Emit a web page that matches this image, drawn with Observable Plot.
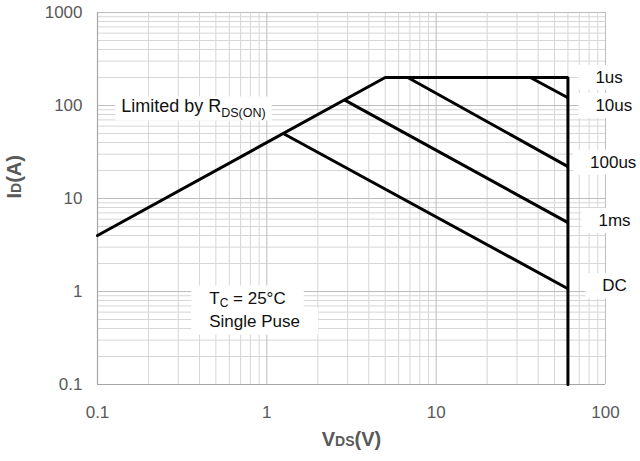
<!DOCTYPE html>
<html>
<head>
<meta charset="utf-8">
<script src="https://cdn.jsdelivr.net/npm/d3@7"></script>
<script src="https://cdn.jsdelivr.net/npm/@observablehq/plot@0.6"></script>
<style>
  body { margin: 0; background: #fff; }
</style>
</head>
<body>
<div id="chart"></div>
<script>
// Safe operating area, Tc = 25°C, single pulse (log–log)

// Outer boundary: RDS(on) limit -> current limit -> voltage limit
const boundaryV = [0.1, 5, 60, 60];
const boundaryI = [4, 200, 200, 0.1];

// Pulse-width limited diagonals (start point on the boundary, end at VDS max)
const diagStartV = [36, 6.8, 2.87, 1.25];
const diagStartI = [200, 200, 115, 50];
const diagEndV = [60, 60, 60, 60];
const diagEndI = [121, 22, 5.5, 1.07];

// Pulse-width labels beside the VDS max line
const pulseLabels = ["1us", "10us", "100us", "1ms", "DC"];
const pulseLabelV = [105, 112, 111, 113, 113];
const pulseLabelI = [200, 100, 24.5, 5.8, 1.15];

// Notes inside the plot
const rdsNote = ["Limited by RDS(ON)"];
const rdsNoteV = [0.138];
const rdsNoteI = [97];
const condNotes = ["TC = 25°C", "Single Puse"];
const condNoteV = [0.457, 0.457];
const condNoteI = [0.83, 0.48];

// Axis ticks
const majorV = [0.1, 1, 10, 100];
const majorI = [0.1, 1, 10, 100, 1000];
const steps = [2, 3, 4, 5, 6, 7, 8, 9];
const minorV = majorV.slice(0, -1).flatMap(d => steps.map(k => d * k));
const minorI = majorI.slice(0, -1).flatMap(d => steps.map(k => d * k));

const boundary = boundaryV.map((v, i) => ({v, i: boundaryI[i]}));
const diagonals = diagStartV.map((v, k) => ({
  v1: v, i1: diagStartI[k], v2: diagEndV[k], i2: diagEndI[k]
}));

const fmt = d => String(d);

const chart = Plot.plot({
  width: 640,
  height: 461,
  marginLeft: 97,
  marginRight: 35,
  marginTop: 12,
  marginBottom: 77,
  style: {
    fontFamily: "'Liberation Sans', Arial, sans-serif",
    fontSize: "17px",
    color: "#595959",
    background: "white"
  },
  x: {type: "log", domain: [0.1, 100], ticks: majorV, tickFormat: fmt, tickSize: 0, tickPadding: 21, label: null},
  y: {type: "log", domain: [0.1, 1000], ticks: majorI, tickFormat: fmt, tickSize: 0, tickPadding: 15, label: null},
  marks: [
    // grid
    Plot.ruleX(minorV, {stroke: "#d6d6d6", strokeWidth: 1}),
    Plot.ruleY(minorI, {stroke: "#d6d6d6", strokeWidth: 1}),
    Plot.ruleX(majorV, {stroke: "#bdbdbd", strokeWidth: 1}),
    Plot.ruleY(majorI, {stroke: "#bdbdbd", strokeWidth: 1}),
    Plot.ruleX([0.1], {stroke: "#a6a6a6", strokeWidth: 1.2}),
    Plot.ruleY([0.1], {stroke: "#a6a6a6", strokeWidth: 1.2}),

    // notes
    Plot.text(rdsNote, {x: rdsNoteV, y: rdsNoteI, text: d => d, textAnchor: "start", fontSize: 18, fill: "#111"}),
    Plot.text(condNotes, {x: condNoteV, y: condNoteI, text: d => d, textAnchor: "start", fontSize: 17, fill: "#111"}),
    Plot.text(pulseLabels, {x: pulseLabelV, y: pulseLabelI, text: d => d, textAnchor: "middle", fontSize: 17, fill: "#111"}),

    // SOA lines
    Plot.line(boundary, {x: "v", y: "i", stroke: "black", strokeWidth: 3, strokeLinejoin: "miter"}),
    Plot.link(diagonals, {x1: "v1", y1: "i1", x2: "v2", y2: "i2", stroke: "black", strokeWidth: 3}),

    // axis titles
    Plot.text(["VDS(V)"], {
      text: d => d, frameAnchor: "bottom", dy: 61,
      fontSize: 20, fontWeight: "bold", fill: "#595959"
    }),
    Plot.text(["ID(A)"], {
      text: d => d, frameAnchor: "left", dx: -83, rotate: -90,
      fontSize: 20, fontWeight: "bold", fill: "#595959"
    })
  ]
});

// Rebuild selected labels with smaller (subscript) parts
function subscript(svg, full, parts, subSize, shift) {
  d3.select(svg).selectAll("text")
    .filter(function () { return this.textContent === full; })
    .each(function () {
      const t = d3.select(this).text(null);
      let offset = 0;
      for (const [s, sub] of parts) {
        const want = sub ? shift : 0;
        t.append("tspan")
          .attr("dy", want - offset)
          .attr("font-size", sub ? subSize : null)
          .text(s);
        offset = want;
      }
    });
}

subscript(chart, "Limited by RDS(ON)", [["Limited by R", 0], ["DS(ON)", 1]], 12.5, 5);
subscript(chart, "TC = 25°C", [["T", 0], ["C", 1], [" = 25°C", 0]], 12, 3);
subscript(chart, "VDS(V)", [["V", 0], ["DS", 1], ["(V)", 0]], 14, 0);
subscript(chart, "ID(A)", [["I", 0], ["D", 1], ["(A)", 0]], 14, 0);

document.getElementById("chart").appendChild(chart);

// White boxes behind the notes so the grid does not run through them
function backing(svg, labels, padX, padY) {
  const texts = d3.select(svg).selectAll("text")
    .filter(function () { return labels.includes(this.textContent); });
  const boxes = texts.nodes().map(n => ({
    parent: n.parentNode,
    box: n.getBBox(),
    transform: n.getAttribute("transform")
  }));
  for (const {parent, box, transform} of boxes) {
    d3.select(parent).insert("rect", ":first-child")
      .attr("transform", transform)
      .attr("x", box.x - padX)
      .attr("y", box.y - padY)
      .attr("width", box.width + 2 * padX)
      .attr("height", box.height + 2 * padY)
      .attr("fill", "white")
      .attr("stroke", "none");
  }
}

backing(chart, rdsNote, 6, 0);
backing(chart, condNotes, 18, 4);
backing(chart, pulseLabels, 17, 3);
</script>
</body>
</html>
